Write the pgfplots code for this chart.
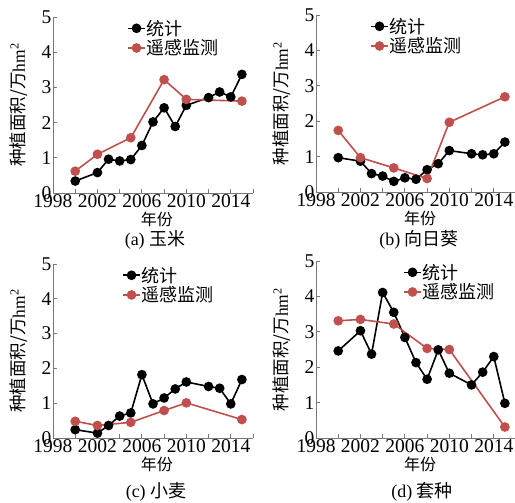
\documentclass[border=0pt]{standalone}
\usepackage{fontspec}
\setmainfont{Liberation Serif}
\newfontfamily\cjk{Noto Sans CJK SC}
\usepackage{pgfplots}
\pgfplotsset{compat=1.18}
\definecolor{rsred}{RGB}{192,80,77}
\definecolor{axgray}{RGB}{120,120,120}
\pgfplotsset{
 panel/.style={
  scale only axis, width=200pt,
  xmin=1998, xmax=2016, ymin=0, ymax=5,
  axis x line=bottom, axis y line=left,
  axis line style={-, draw=axgray, line width=0.9pt},
  xtick={1998,2000,...,2016},
  xticklabels={1998,,2002,,2006,,2010,,2014,},
  ytick={0,1,2,3,4,5},
  tick align=inside,
  major tick length=4pt,
  tick style={axgray, line width=0.8pt},
  /pgf/number format/assume math mode=true,
  ticklabel style={font=\fontsize{19.5}{20}\selectfont},
  xticklabel style={inner sep=1pt},
  yticklabel style={inner sep=1.5pt},
  ylabel={{\cjk 种植面积/万}hm\textsuperscript{2}},
  ylabel style={at={(axis description cs:-0.17,0.5)}, anchor=center, font=\fontsize{17.5}{18}\selectfont},
  xlabel={\cjk 年份},
  xlabel style={at={(axis description cs:0.52,-0.15)}, anchor=center, font=\fontsize{16}{16}\selectfont},
  legend cell align=left,
  legend style={draw=none, fill=none, anchor=north west, inner sep=0pt, row sep=1pt,
    font=\cjk\fontsize{18}{18}\selectfont, nodes={inner sep=1pt}},
 },
 stat/.style={black, line width=1.6pt, mark=*, mark size=4pt, mark options={solid}},
 rs/.style={rsred, line width=1.6pt, mark=*, mark size=4pt, mark options={solid}},
}
\begin{document}
\begin{tikzpicture}
\useasboundingbox (0pt,0pt) rectangle (515pt,-503pt);
% (a)
\begin{axis}[panel, height=176pt, at={(53pt,-193pt)}, anchor=south west,
  legend style={at={(axis description cs:0.37,0.99)}}]
\addplot[stat] coordinates {(2000,0.34)(2002,0.58)(2003,0.96)(2004,0.91)(2005,0.95)(2006,1.35)(2007,2.02)(2008,2.42)(2009,1.89)(2010,2.49)(2012,2.71)(2013,2.87)(2014,2.73)(2015,3.37)};
\addplot[rs] coordinates {(2000,0.62)(2002,1.10)(2005,1.57)(2008,3.22)(2010,2.66)(2015,2.61)};
\legend{统计,遥感监测}
\end{axis}
% (b)
\begin{axis}[panel, height=177pt, at={(316pt,-192pt)}, anchor=south west,
  legend style={at={(axis description cs:0.27,0.99)}}]
\addplot[stat] coordinates {(2000,0.97)(2002,0.87)(2003,0.52)(2004,0.45)(2005,0.30)(2006,0.40)(2007,0.36)(2008,0.63)(2009,0.80)(2010,1.17)(2012,1.08)(2013,1.05)(2014,1.08)(2015,1.41)};
\addplot[rs] coordinates {(2000,1.74)(2002,0.97)(2005,0.68)(2008,0.38)(2010,1.97)(2015,2.69)};
\legend{统计,遥感监测}
\end{axis}
% (c)
\begin{axis}[panel, height=174pt, at={(53pt,-438pt)}, anchor=south west,
  legend style={at={(axis description cs:0.345,0.99)}}]
\addplot[stat] coordinates {(2000,0.24)(2002,0.14)(2003,0.36)(2004,0.63)(2005,0.72)(2006,1.82)(2007,0.98)(2008,1.15)(2009,1.41)(2010,1.61)(2012,1.48)(2013,1.43)(2014,0.98)(2015,1.68)};
\addplot[rs] coordinates {(2000,0.48)(2002,0.36)(2005,0.45)(2008,0.79)(2010,1.01)(2015,0.53)};
\legend{统计,遥感监测}
\end{axis}
% (d)
\begin{axis}[panel, height=177pt, at={(316pt,-438pt)}, anchor=south west,
  legend style={at={(axis description cs:0.435,0.99)}}]
\addplot[stat] coordinates {(2000,2.46)(2002,3.03)(2003,2.37)(2004,4.11)(2005,3.55)(2006,2.84)(2007,2.13)(2008,1.66)(2009,2.49)(2010,1.83)(2012,1.50)(2013,1.86)(2014,2.30)(2015,0.98)};
\addplot[rs] coordinates {(2000,3.31)(2002,3.35)(2005,3.22)(2008,2.53)(2010,2.50)(2015,0.31)};
\legend{统计,遥感监测}
\end{axis}
\node[font=\fontsize{18}{20}\selectfont] at (155pt,-240pt) {(a) {\cjk 玉米}};
\node[font=\fontsize{18}{20}\selectfont] at (419pt,-240pt) {(b) {\cjk 向日葵}};
\node[font=\fontsize{18}{20}\selectfont] at (156pt,-492pt) {(c) {\cjk 小麦}};
\node[font=\fontsize{18}{20}\selectfont] at (422pt,-492pt) {(d) {\cjk 套种}};
\end{tikzpicture}
\end{document}
